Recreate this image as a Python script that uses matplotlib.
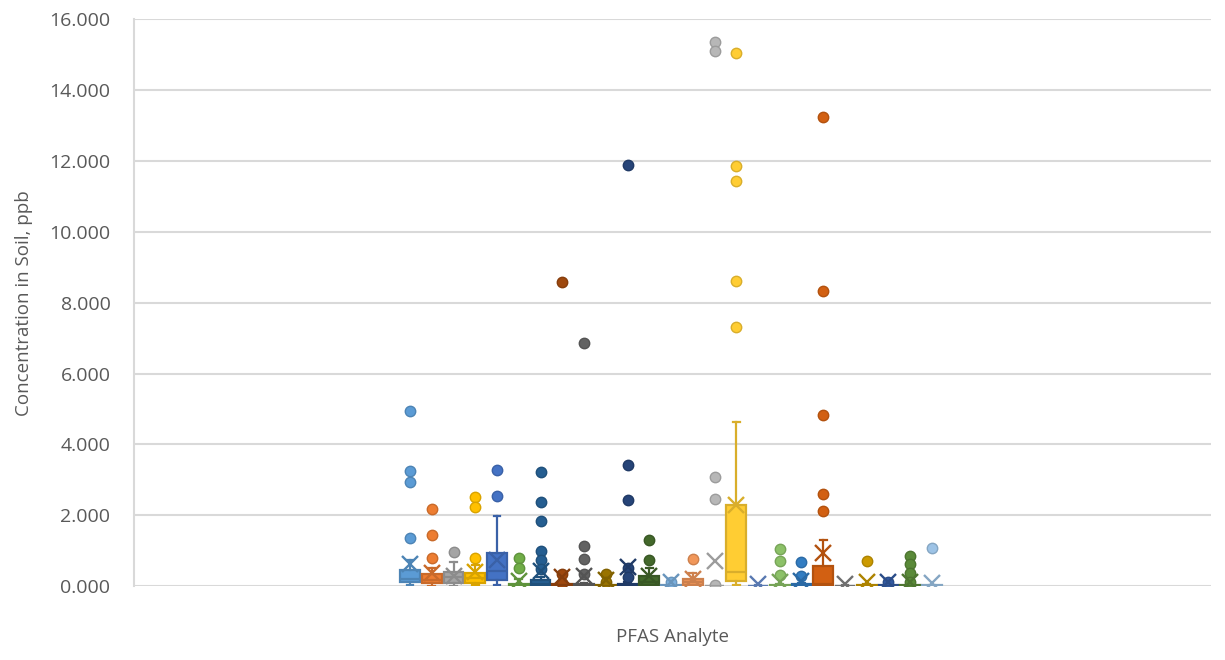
import matplotlib
matplotlib.use('Agg')
import matplotlib.pyplot as plt
import matplotlib.colors as mcolors
import numpy as np

# Excel-style series colours (25 PFAS analytes)
colors = ['#5B9BD5', '#ED7D31', '#A5A5A5', '#FFC000', '#4472C4', '#70AD47',
          '#255E91', '#9E480E', '#636363', '#997300', '#264478', '#43682B',
          '#7CAFDD', '#F1975A', '#B7B7B7', '#FFCD33', '#698ED0', '#8CC168',
          '#327DC2', '#D26012', '#848484', '#CC9A00', '#335AA1', '#5A8A39',
          '#9DC3E6']

# box statistics (ppb)
q1 = [0.10, 0.08, 0.08, 0.08, 0.17, 0.00, 0.03, 0.00, 0.00, 0.00, 0.00, 0.02,
      0.00, 0.03, 0.00, 0.14, 0.00, 0.00, 0.00, 0.00, 0.00, 0.00, 0.00, 0.00, 0.00]
med = [0.20, 0.18, 0.25, 0.22, 0.42, 0.02, 0.06, 0.02, 0.01, 0.01, 0.02, 0.10,
       0.01, 0.12, 0.00, 0.40, 0.00, 0.01, 0.01, 0.05, 0.00, 0.01, 0.01, 0.01, 0.01]
q3 = [0.45, 0.34, 0.39, 0.38, 0.94, 0.05, 0.18, 0.05, 0.05, 0.03, 0.06, 0.28,
      0.03, 0.20, 0.01, 2.28, 0.01, 0.03, 0.05, 0.56, 0.01, 0.03, 0.03, 0.03, 0.02]
whislo = [0.02, 0.01, 0.01, 0.02, 0.03, 0.00, 0.00, 0.00, 0.00, 0.00, 0.00, 0.00,
          0.00, 0.00, 0.00, 0.03, 0.00, 0.00, 0.00, 0.00, 0.00, 0.00, 0.00, 0.00, 0.00]
whishi = [0.73, 0.50, 0.67, 0.60, 1.97, 0.20, 0.25, 0.10, 0.08, 0.05, 0.10, 0.50,
          0.05, 0.37, 0.02, 4.62, 0.02, 0.05, 0.08, 1.30, 0.02, 0.05, 0.05, 0.05, 0.04]
means = [0.62, 0.38, 0.28, 0.40, 0.74, 0.15, 0.42, 0.25, 0.27, 0.18, 0.54, 0.27,
         0.10, 0.20, 0.72, 2.30, 0.05, 0.12, 0.14, 0.92, 0.06, 0.12, 0.10, 0.12, 0.08]
outliers = [
    [4.93, 3.25, 2.94, 1.37],
    [2.18, 1.43, 0.80],
    [0.97],
    [2.50, 2.22, 0.80],
    [3.27, 2.54],
    [0.78, 0.50],
    [3.21, 2.37, 1.85, 0.99, 0.74, 0.49],
    [8.59, 0.33, 0.08],
    [6.87, 1.12, 0.77, 0.33],
    [0.33, 0.10],
    [11.88, 3.41, 2.43, 0.50, 0.25],
    [1.30, 0.74],
    [0.12],
    [0.76],
    [15.35, 15.10, 3.08, 2.47, 0.03],
    [15.05, 11.86, 11.44, 8.62, 7.32],
    [],
    [1.04, 0.70, 0.31],
    [0.69, 0.28],
    [13.24, 8.34, 4.83, 2.59, 2.11],
    [],
    [0.71],
    [0.10],
    [0.86, 0.61, 0.36, 0.12],
    [1.06],
]

plt.rcParams['font.family'] = ['Open Sans', 'DejaVu Sans']

fig = plt.figure(figsize=(12.25, 6.6), dpi=100)
ax = fig.add_axes([0.1094, 0.1121, 0.8792, 0.8584])

grid_c = '#D9D9D9'
text_c = '#595959'


def darker(c, f=0.85):
    r, g, b = mcolors.to_rgb(c)
    return (r * f, g * f, b * f)


for i, c in enumerate(colors):
    st = [{'q1': q1[i], 'med': med[i], 'q3': q3[i], 'whislo': whislo[i],
           'whishi': whishi[i], 'mean': means[i], 'fliers': outliers[i]}]
    ec = darker(c)
    ax.bxp(st, positions=[i + 1], widths=0.9, capwidths=0.3,
           patch_artist=True, showmeans=True, manage_ticks=False,
           boxprops=dict(facecolor=c, edgecolor=ec, linewidth=1.6),
           medianprops=dict(color=ec, linewidth=1.6),
           whiskerprops=dict(color=ec, linewidth=1.6),
           capprops=dict(color=ec, linewidth=1.6),
           meanprops=dict(marker='x', markeredgecolor=ec, markersize=11,
                          markeredgewidth=1.7),
           flierprops=dict(marker='o', markerfacecolor=c, markeredgecolor=ec,
                           markersize=7.5, markeredgewidth=1.0))

ax.set_xlim(13.07 - 24.76, 13.07 + 24.76)
ax.set_ylim(0, 16)
ax.set_yticks(np.arange(0, 17, 2))
ax.set_yticklabels(['{:.3f}'.format(v) for v in np.arange(0, 17, 2)])
ax.set_xticks([])
ax.grid(axis='y', color=grid_c, linewidth=1.5, zorder=0)
ax.set_axisbelow(True)
for s in ['top', 'right', 'bottom']:
    ax.spines[s].set_visible(False)
ax.spines['left'].set_color(grid_c)
ax.spines['left'].set_linewidth(1.5)
ax.tick_params(axis='y', length=0, labelsize=14, labelcolor=text_c, pad=17)

ax.set_ylabel('Concentration in Soil, ppb', fontsize=13.5, color=text_c,
              labelpad=12)
ax.set_xlabel('PFAS Analyte', fontsize=13.5, color=text_c, labelpad=30)

fig.savefig('out.png', dpi=100)
